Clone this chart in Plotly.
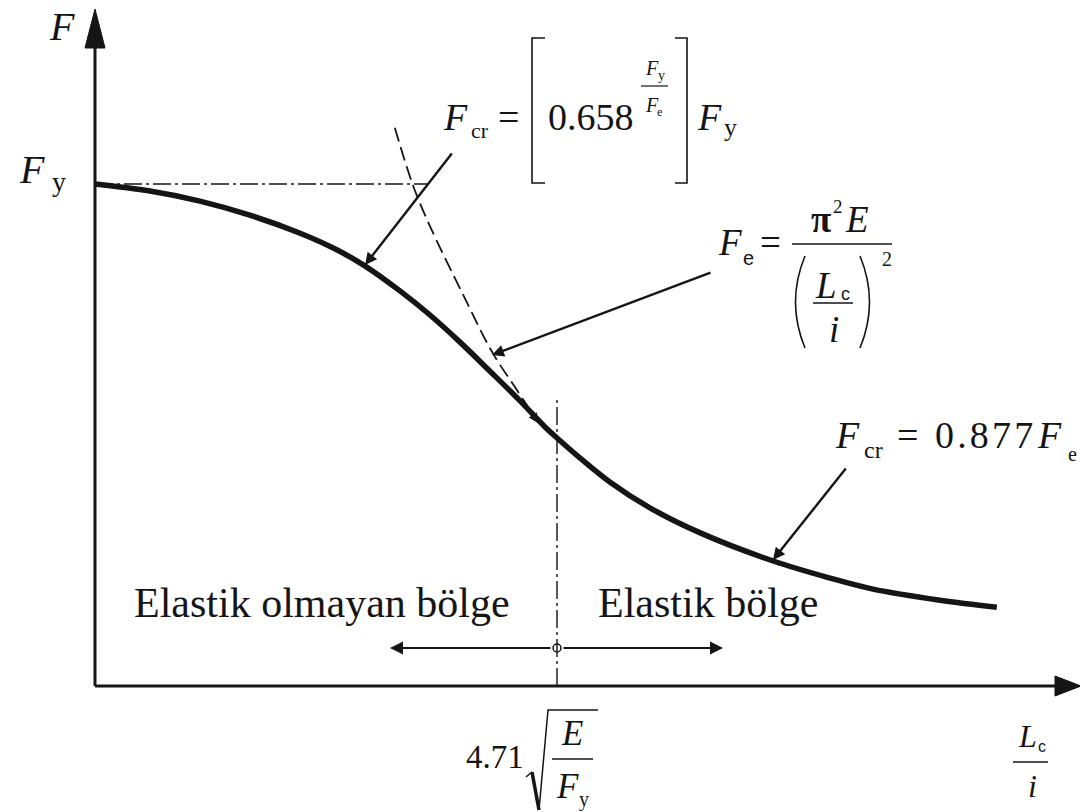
import plotly.graph_objects as go

# Column strength curve, normalised: x = (Lc/i) / (4.71*sqrt(E/Fy)), y = Fcr / Fy
lam = [0.000, 0.119, 0.227, 0.335, 0.444, 0.519, 0.584, 0.660, 0.725, 0.790,
       0.855, 0.920, 0.974, 1.000, 1.050, 1.115, 1.201, 1.310, 1.468, 1.591,
       1.684, 1.829, 1.952]
fcr = [1.000, 0.986, 0.966, 0.938, 0.902, 0.871, 0.837, 0.787, 0.739, 0.685,
       0.627, 0.568, 0.516, 0.494, 0.454, 0.406, 0.355, 0.305, 0.249, 0.215,
       0.193, 0.171, 0.157]

# Euler buckling stress Fe (dashed), same normalisation
euler_lam = [0.649, 0.688, 0.725, 0.797, 0.861, 0.913, 0.957]
euler_f = [1.112, 0.998, 0.916, 0.779, 0.663, 0.590, 0.528]

# Limit slenderness separating the two regions
lam_limit = 1.0
fy_level = 1.0

INK = "#151515"
SERIF = "Liberation Serif, Times New Roman, serif"
SANS = "Liberation Sans, Arial, sans-serif"

W, H = 1080, 812
OX, OY = 95, 686          # origin of the axes on the page
SX, SY = 462.0, 502.0     # page pixels per unit


def X(px):
    return (px - OX) / SX


def Y(py):
    return (OY - py) / SY


fig = go.Figure()

# Solid strength curve
fig.add_trace(go.Scatter(x=lam, y=fcr, mode="lines",
                         line=dict(color=INK, width=5.5, shape="spline", smoothing=1.0),
                         hoverinfo="skip"))
# Dashed Euler curve
fig.add_trace(go.Scatter(x=euler_lam, y=euler_f, mode="lines",
                         line=dict(color=INK, width=1.8, dash="14px,6px", shape="spline"),
                         hoverinfo="skip"))
# Fy level (dash-dot) up to the Euler curve
fig.add_trace(go.Scatter(x=[0, X(428)], y=[fy_level, fy_level], mode="lines",
                         line=dict(color=INK, width=1.4, dash="18px,4px,3px,4px"),
                         hoverinfo="skip"))
# Limit slenderness line (dash-dot)
fig.add_trace(go.Scatter(x=[lam_limit, lam_limit], y=[0, Y(398)], mode="lines",
                         line=dict(color=INK, width=1.4, dash="18px,4px,3px,4px"),
                         hoverinfo="skip"))
# Centre mark of the region arrows
fig.add_trace(go.Scatter(x=[lam_limit], y=[Y(648)], mode="markers",
                         marker=dict(symbol="circle-open", size=8, color=INK,
                                     line=dict(width=1.5, color=INK)),
                         hoverinfo="skip"))

shapes = []


def seg(p, q, width=1.5):
    shapes.append(dict(type="line", x0=X(p[0]), y0=Y(p[1]), x1=X(q[0]), y1=Y(q[1]),
                       xref="x", yref="y", line=dict(color=INK, width=width)))


def path(points, width=1.5, fill=False, close=False, curve=False):
    if curve:
        (a, b, c) = points
        d = f"M {X(a[0])},{Y(a[1])} Q {X(b[0])},{Y(b[1])} {X(c[0])},{Y(c[1])}"
    else:
        d = "M " + " L ".join(f"{X(px)},{Y(py)}" for px, py in points)
        if close:
            d += " Z"
    shapes.append(dict(type="path", path=d, xref="x", yref="y",
                       line=dict(color=INK, width=width),
                       fillcolor=INK if fill else "rgba(0,0,0,0)"))


# Axes with filled arrow heads
seg((OX, OY), (OX, 46), 3)
path([(OX, 9), (OX - 10, 48), (OX + 10, 48)], width=1, fill=True, close=True)
seg((OX, OY), (1058, OY), 3)
path([(1081, OY), (1055, OY - 10), (1055, OY + 10)], width=1, fill=True, close=True)

# Brackets of the inelastic formula
path([(545, 38), (532, 38), (532, 183), (545, 183)], width=1.6)
path([(675, 38), (687, 38), (687, 183), (675, 183)], width=1.6)
# Fraction bar of the exponent
seg((641, 86), (668, 86), 1.2)

# Euler formula: main bar, inner bar, parentheses
seg((792, 244), (892, 244), 1.6)
seg((813, 303), (853, 303), 1.4)
path([(805, 256), (786, 302), (805, 348)], width=1.6, curve=True)
path([(860, 256), (879, 302), (860, 348)], width=1.6, curve=True)

# Limit slenderness label: radical and bar
path([(526, 777), (532, 772)], width=1.5)
seg((532, 772), (539, 810), 3.5)
path([(539, 810), (548, 710), (598, 710)], width=1.5)
seg((552, 759), (593, 759), 1.4)

# Lc / i axis label bar
seg((1013, 762), (1048, 762), 1.4)

annotations = []


def txt(s, px, base, size, italic=False, bold=False, family=SERIF):
    content = s
    if bold:
        content = f"<b>{content}</b>"
    if italic:
        content = f"<i>{content}</i>"
    annotations.append(dict(text=content, x=X(px), y=Y(base - 0.34 * size),
                            xref="x", yref="y", xanchor="left", yanchor="middle",
                            showarrow=False,
                            font=dict(family=family, size=size, color=INK)))


def arrow(tail, tip, width=2.4, size=1.0):
    annotations.append(dict(text="", x=X(tip[0]), y=Y(tip[1]),
                            ax=X(tail[0]), ay=Y(tail[1]),
                            xref="x", yref="y", axref="x", ayref="y",
                            showarrow=True, arrowhead=2, arrowsize=size,
                            arrowwidth=width, arrowcolor=INK))


# Axis labels
txt("F", 47, 40, 40, italic=True)
txt("F", 17, 183, 40, italic=True)
txt("y", 50, 191, 28)

# Fcr = [0.658^(Fy/Fe)] Fy
txt("F", 441, 130, 38, italic=True)
txt("cr", 469, 138, 22)
txt("=", 496, 130, 38)
txt("0.658", 546, 130, 38)
txt("F", 643, 75, 20, italic=True)
txt("y", 656, 80, 14)
txt("F", 643, 112, 20, italic=True)
txt("e", 655, 116, 12)
txt("F", 695, 130, 38, italic=True)
txt("y", 722, 136, 26)

# Fe = pi^2 E / (Lc / i)^2
txt("F", 716, 255, 37, italic=True)
txt("e", 741, 265, 20, family=SANS)
txt("=", 758, 255, 37)
txt("π", 809, 232, 37, bold=True)
txt("2", 831, 213, 19)
txt("E", 843, 232, 37, italic=True)
txt("L", 813, 298, 37, italic=True)
txt("c", 839, 300, 18, family=SANS)
txt("i", 827, 342, 37, italic=True)
txt("2", 880, 266, 20)

# Fcr = 0.877 Fe
txt("F", 833, 448, 38, italic=True)
txt("cr", 862, 458, 24)
txt("=", 895, 448, 38)
txt("0\u200a.\u200a8\u200a7\u200a7", 933, 448, 38)
txt("F", 1035, 448, 38, italic=True)
txt("e", 1066, 461, 20)

# Region names
txt("Elastik olmayan bölge", 132, 617, 42)
txt("Elastik bölge", 596, 617, 42)

# 4.71 sqrt(E / Fy)
txt("4.71", 464, 768, 33)
txt("E", 559, 745, 35, italic=True)
txt("F", 554, 798, 35, italic=True)
txt("y", 577, 806, 20)

# Lc / i
txt("L", 1016, 747, 32, italic=True)
txt("c", 1036, 752, 16, family=SANS)
txt("i", 1026, 797, 32, italic=True)

# Leader arrows
arrow((453, 152), (365, 265))
arrow((712, 272), (492, 355))
arrow((847, 467), (773, 560))
arrow((522, 398), (538, 423), width=1.6, size=1.2)
# Region arrows from the limit line
arrow((552, 648), (390, 648), width=2.0, size=1.3)
arrow((562, 648), (723, 648), width=2.0, size=1.3)

fig.update_layout(
    width=W, height=H,
    margin=dict(l=0, r=0, t=0, b=0),
    paper_bgcolor="white", plot_bgcolor="white",
    showlegend=False,
    xaxis=dict(range=[X(0), X(W)], visible=False, fixedrange=True),
    yaxis=dict(range=[Y(H), Y(0)], visible=False, fixedrange=True),
    shapes=shapes,
    annotations=annotations,
)

fig.write_html("out.html")
